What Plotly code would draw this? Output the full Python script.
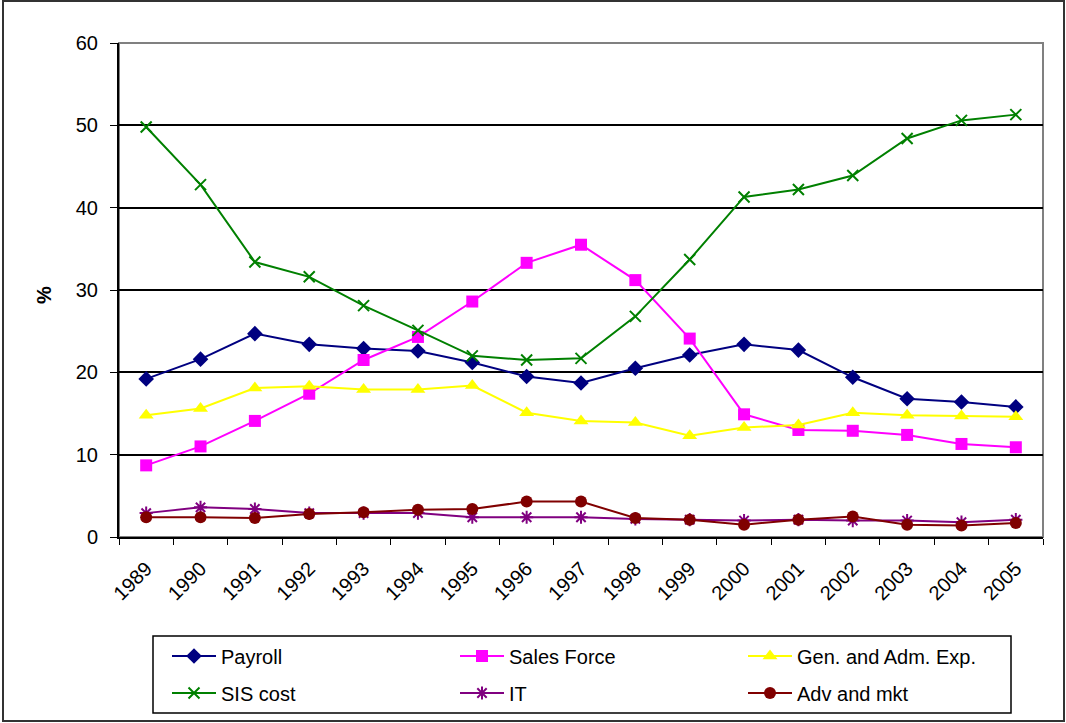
import plotly.graph_objects as go

years = [str(y) for y in range(1989, 2006)]
payroll = [19.2, 21.6, 24.7, 23.4, 22.9, 22.6, 21.2, 19.5, 18.7, 20.5, 22.1, 23.4, 22.7, 19.4, 16.8, 16.4, 15.8]
sales_force = [8.7, 11.0, 14.1, 17.4, 21.5, 24.3, 28.6, 33.3, 35.5, 31.2, 24.1, 14.9, 13.0, 12.9, 12.4, 11.3, 10.9]
gen_adm = [14.8, 15.6, 18.1, 18.3, 17.9, 17.9, 18.4, 15.1, 14.1, 13.9, 12.3, 13.3, 13.6, 15.1, 14.8, 14.7, 14.6]
sis_cost = [49.8, 42.8, 33.4, 31.6, 28.1, 25.1, 22.0, 21.5, 21.7, 26.8, 33.7, 41.3, 42.2, 43.9, 48.4, 50.6, 51.3]
it = [2.9, 3.6, 3.4, 2.9, 2.9, 2.9, 2.4, 2.4, 2.4, 2.2, 2.1, 2.0, 2.1, 2.0, 2.0, 1.8, 2.1]
adv_mkt = [2.4, 2.4, 2.3, 2.8, 3.0, 3.3, 3.4, 4.3, 4.3, 2.3, 2.1, 1.5, 2.1, 2.5, 1.5, 1.4, 1.7]

series = [
    ("Payroll", payroll, "#000080", "diamond", 12, "legend"),
    ("Sales Force", sales_force, "#FF00FF", "square", 12, "legend"),
    ("Gen. and Adm. Exp.", gen_adm, "#FFFF00", "triangle-up", 13, "legend"),
    ("SIS cost", sis_cost, "#008000", "x-thin-open", 11, "legend2"),
    ("IT", it, "#800080", "asterisk-open", 11, "legend2"),
    ("Adv and mkt", adv_mkt, "#800000", "circle", 12, "legend2"),
]

fig = go.Figure()
for name, vals, color, sym, size, leg in series:
    fig.add_trace(go.Scatter(
        x=years, y=vals, name=name, mode="lines+markers", legend=leg,
        line=dict(color=color, width=2),
        marker=dict(symbol=sym, size=size, color=color,
                    line=dict(color=color, width=2 if "open" in sym else 0)),
    ))

L, T, R, B = 119, 43, 1043, 537
W, H = 1066, 723
pw, ph = R - L, B - T

def px(x):
    return (x - L) / pw

def py(y):
    return (B - y) / ph

leg_common = dict(
    orientation="h", xanchor="left", yanchor="middle",
    borderwidth=0, bgcolor="rgba(0,0,0,0)",
    font=dict(size=20), entrywidth=229, entrywidthmode="pixels",
    itemwidth=44, tracegroupgap=0,
)

fig.update_layout(
    width=W, height=H,
    margin=dict(l=L, r=W - R, t=T, b=H - B, autoexpand=False),
    paper_bgcolor="white", plot_bgcolor="white",
    font=dict(family="Liberation Sans, Arial, sans-serif", size=20, color="black"),
    showlegend=True,
    legend=dict(x=px(167), y=py(656), **leg_common),
    legend2=dict(x=px(167), y=py(693), **leg_common),
    xaxis=dict(
        type="category", range=[-0.5, 16.5], showgrid=False,
        showline=True, linecolor="black", linewidth=2,
        ticks="outside", ticklen=6, tickcolor="black", tickson="boundaries",
        tickangle=-45, tickfont=dict(size=20), ticklabelstandoff=10,
    ),
    yaxis=dict(
        range=[0, 60], dtick=10, showgrid=True, gridcolor="black", gridwidth=1.5,
        showline=True, linecolor="black", linewidth=2, zeroline=False,
        ticks="outside", ticklen=7, tickcolor="black", tickfont=dict(size=20),
        ticklabelstandoff=8,
    ),
    shapes=[
        dict(type="rect", xref="paper", yref="paper", x0=0, x1=1, y0=0, y1=1,
             line=dict(color="#808080", width=2), layer="below"),
        dict(type="rect", xref="paper", yref="paper", x0=px(3), x1=px(1064),
             y0=py(721), y1=py(1), line=dict(color="#333333", width=2)),
        dict(type="rect", xref="paper", yref="paper", x0=px(153), x1=px(1011),
             y0=py(713), y1=py(636), line=dict(color="black", width=1.5)),
    ],
    annotations=[
        dict(text="<b>%</b>", xref="paper", yref="paper", x=px(44), y=py(295),
             xanchor="center", yanchor="middle",
             showarrow=False, textangle=-90, font=dict(size=20)),
    ],
)

fig.write_html("out.html")
